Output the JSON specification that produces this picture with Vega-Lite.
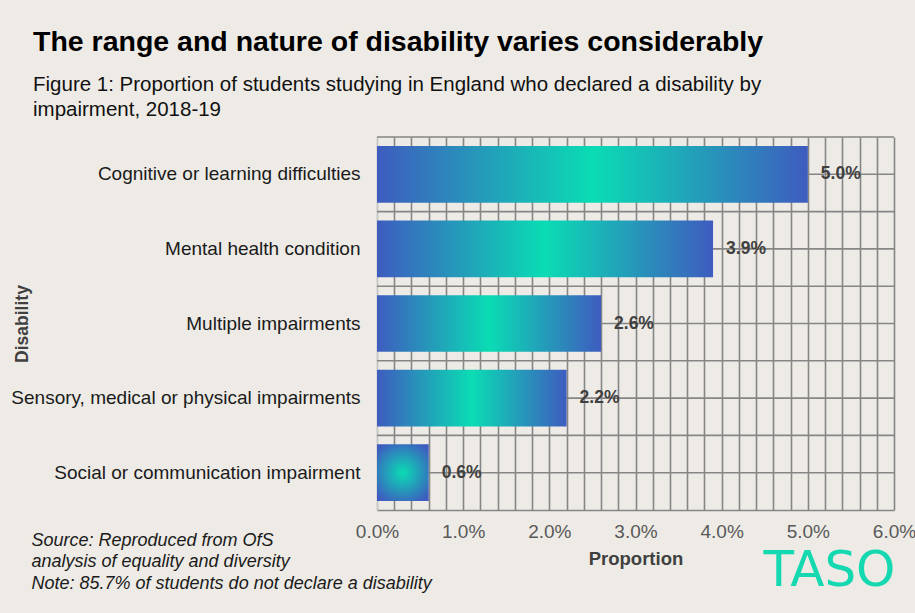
{
  "$schema": "https://vega.github.io/schema/vega-lite/v6.json",
  "width": 517,
  "height": 373,
  "autosize": {"type": "none"},
  "padding": {"left": 377, "top": 137, "right": 21, "bottom": 103},
  "background": "#eeebe6",
  "config": {
    "font": "Liberation Sans",
    "view": {"stroke": null}
  },
  "title": {
    "text": "The range and nature of disability varies considerably",
    "subtitle": ["Figure 1: Proportion of students studying in England who declared a disability by", "impairment, 2018-19"],
    "anchor": "start",
    "frame": "group",
    "dx": -344,
    "offset": 16,
    "fontSize": 28.5,
    "fontWeight": "bold",
    "color": "#000000",
    "subtitleFontSize": 20.5,
    "subtitleColor": "#111111",
    "subtitleLineHeight": 25,
    "subtitlePadding": 18
  },
  "data": {
    "values": [
      {"disability": "Cognitive or learning difficulties", "proportion": 0.050},
      {"disability": "Mental health condition", "proportion": 0.039},
      {"disability": "Multiple impairments", "proportion": 0.026},
      {"disability": "Sensory, medical or physical impairments", "proportion": 0.022},
      {"disability": "Social or communication impairment", "proportion": 0.006}
    ]
  },
  "resolve": {"axis": {"x": "independent", "y": "independent"}},
  "layer": [
    {
      "mark": {"type": "rule", "color": "#868686", "strokeWidth": 1.6},
      "encoding": {
        "y": {"field": "disability", "type": "nominal", "sort": null, "bandPosition": 0, "axis": null}
      }
    },
    {
      "mark": {"type": "rule", "color": "#868686", "strokeWidth": 1.6},
      "encoding": {
        "y": {
          "field": "disability", "type": "nominal", "sort": null,
          "axis": {
            "orient": "right", "labels": false, "ticks": false, "domain": false, "grid": false,
            "title": "TASO", "titleX": -65, "titleY": 448, "titleAngle": 0,
            "titleAlign": "center", "titleBaseline": "alphabetic",
            "titleFont": "DejaVu Sans", "titleFontSize": 50, "titleFontWeight": "normal",
            "titleColor": "#14d8b0"
          }
        }
      }
    },
    {
      "transform": [{"filter": "datum.proportion >= 0.01"}],
      "mark": {
        "type": "bar",
        "height": {"band": 0.76},
        "color": {
          "gradient": "linear", "x1": 0, "y1": 0, "x2": 1, "y2": 0,
          "stops": [
            {"offset": 0, "color": "#3e5cbf"},
            {"offset": 0.5, "color": "#0adcb4"},
            {"offset": 1, "color": "#3e5cbf"}
          ]
        }
      },
      "encoding": {
        "y": {
          "field": "disability", "type": "nominal", "sort": null,
          "scale": {"paddingInner": 0, "paddingOuter": 0},
          "axis": {
            "title": "Disability",
            "titleFontSize": 17.5, "titleFontWeight": "bold", "titleColor": "#404040",
            "titleAngle": -90, "titleX": -355, "titleY": 186.5,
            "titleAlign": "center", "titleBaseline": "middle",
            "labelFontSize": 19, "labelColor": "#1a1a1a", "labelPadding": 17, "labelLimit": 400,
            "ticks": false, "grid": false,
            "domainColor": "#c8c8c8", "domainWidth": 1.5
          }
        },
        "x": {
          "field": "proportion", "type": "quantitative",
          "scale": {"domain": [0, 0.06], "nice": false, "zero": true},
          "axis": {
            "title": "Proportion",
            "titleFontSize": 18.5, "titleFontWeight": "bold", "titleColor": "#404040", "titlePadding": 8,
            "values": [0, 0.002, 0.004, 0.006, 0.008, 0.01, 0.012, 0.014, 0.016, 0.018, 0.02, 0.022, 0.024, 0.026, 0.028, 0.03, 0.032, 0.034, 0.036, 0.038, 0.04, 0.042, 0.044, 0.046, 0.048, 0.05, 0.052, 0.054, 0.056, 0.058, 0.06],
            "labelExpr": "abs(datum.value*100 - round(datum.value*100)) < 0.001 ? format(datum.value, '.1%') : ''",
            "labelOverlap": false, "labelFlush": false,
            "labelFontSize": 19, "labelColor": "#595959", "labelPadding": 12,
            "ticks": false,
            "grid": true,
            "gridColor": {"condition": {"test": "datum.value === 0", "value": "#c8c8c8"}, "value": "#868686"},
            "gridWidth": 1.6,
            "domainColor": "#868686", "domainWidth": 1.6
          }
        }
      }
    },
    {
      "transform": [{"filter": "datum.proportion < 0.01"}],
      "mark": {
        "type": "bar",
        "height": {"band": 0.76},
        "color": {
          "gradient": "radial", "x1": 0.5, "y1": 0.5, "x2": 0.5, "y2": 0.5, "r1": 0, "r2": 0.6,
          "stops": [
            {"offset": 0, "color": "#0adcb4"},
            {"offset": 1, "color": "#3e5cbf"}
          ]
        }
      },
      "encoding": {
        "y": {"field": "disability", "type": "nominal", "sort": null, "axis": null},
        "x": {"field": "proportion", "type": "quantitative", "axis": null}
      }
    },
    {
      "mark": {"type": "text", "align": "left", "baseline": "middle", "dx": 13, "fontSize": 17.5, "fontWeight": "bold", "color": "#404040"},
      "encoding": {
        "y": {"field": "disability", "type": "nominal", "sort": null, "axis": null},
        "x": {
          "field": "proportion", "type": "quantitative",
          "axis": {
            "orient": "top", "labels": false, "ticks": false, "domain": false, "grid": false,
            "title": ["Source: Reproduced from OfS", "analysis of equality and diversity", "Note: 85.7% of students do not declare a disability"],
            "titleX": -346, "titleY": 408, "titleAngle": 0,
            "titleAlign": "left", "titleBaseline": "alphabetic", "titleLineHeight": 21.5,
            "titleFontSize": 18, "titleFontStyle": "italic", "titleFontWeight": "normal", "titleColor": "#1a1a1a"
          }
        },
        "text": {"field": "proportion", "type": "quantitative", "format": ".1%"}
      }
    }
  ]
}
